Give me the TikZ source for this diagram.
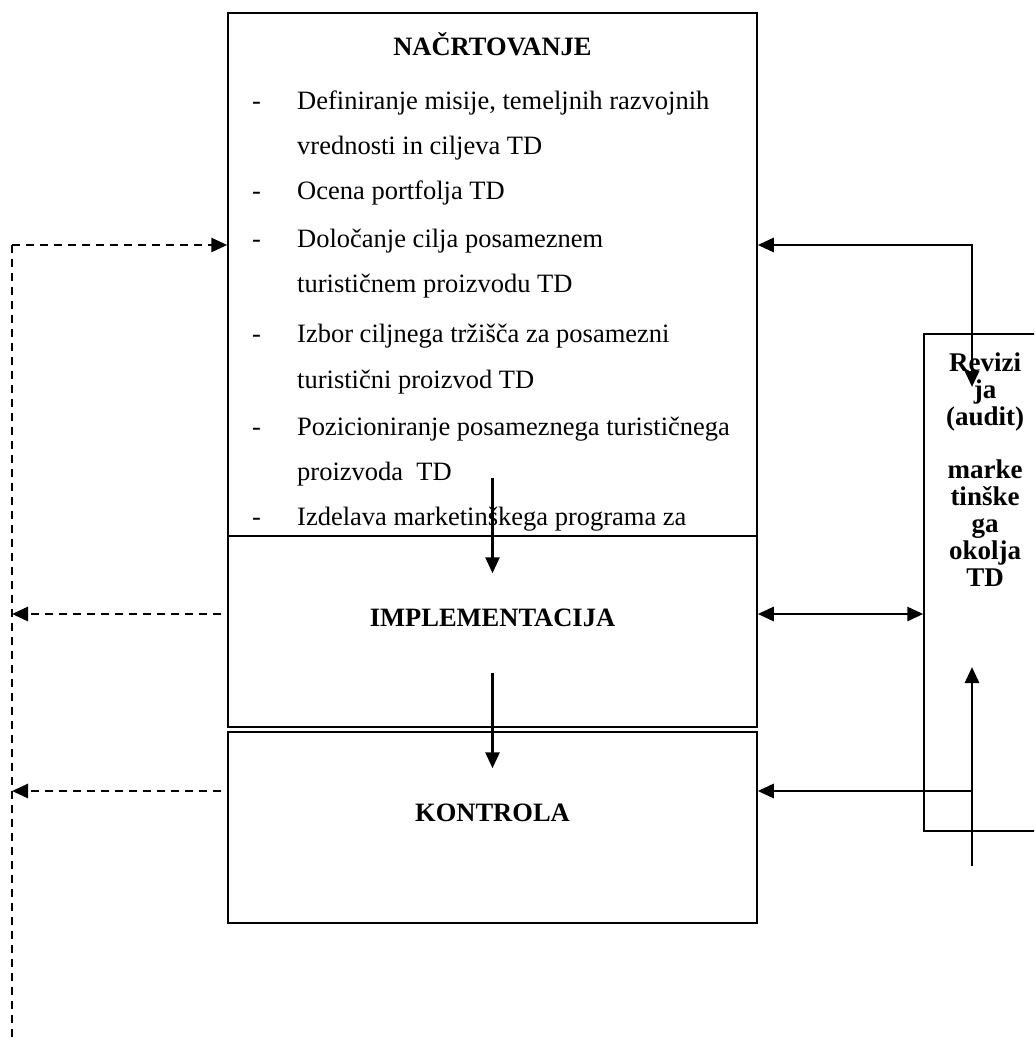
\documentclass[tikz,border=0pt]{standalone}
\usepackage{fontspec}
\setmainfont{Liberation Serif}
\usetikzlibrary{arrows.meta,calc}
\begin{document}
\begin{tikzpicture}[x=1pt,y=-1pt,
  box/.style={draw, line width=1.5pt, inner sep=0pt},
  tipx/.style={-{Triangle[length=16pt,width=14pt]}},
  arr/.style={line width=2.8pt, tipx},
  darr/.style={line width=2.8pt, {Triangle[length=16pt,width=14pt]}-{Triangle[length=16pt,width=14pt]}},
  dsh/.style={line width=2.7pt, dash pattern=on 8pt off 6pt},
  item/.style={anchor=base west, inner sep=0pt, font=\fontsize{26.5}{30}\selectfont},
  ttl/.style={anchor=base, inner sep=0pt, font=\fontsize{26.5}{30}\selectfont\bfseries}]
\useasboundingbox (0,0) rectangle (1034,1040);
\clip (0,0) rectangle (1034,1040);

% boxes
\node[box, minimum width=529pt, minimum height=523pt] (nac) at (492.5,274.5) {};
\node[box, minimum width=529pt, minimum height=191pt] (impl) at (492.5,631.5) {};
\node[box, minimum width=529pt, minimum height=191pt] (kon) at (492.5,827.5) {};
\node[box, minimum width=122pt, minimum height=497pt] (rev) at (985,582.5) {};

% planning text
\node[ttl] (nact) at (492.5,56) {NAČRTOVANJE};
\node[item] (d1) at (252,110) {-};
\node[item] (t1) at (297,110) {Definiranje misije, temeljnih razvojnih};
\node[item] (t2) at (297,155) {vrednosti in ciljeva TD};
\node[item] (d3) at (252,200) {-};
\node[item] (t3) at (297,200) {Ocena portfolja TD};
\node[item] (d4) at (252,248) {-};
\node[item] (t4) at (297,248) {Določanje cilja posameznem};
\node[item] (t5) at (297,293) {turističnem proizvodu TD};
\node[item] (d6) at (252,342) {-};
\node[item] (t6) at (297,342) {Izbor ciljnega tržišča za posamezni};
\node[item] (t7) at (297,388) {turistični proizvod TD};
\node[item] (d8) at (252,435) {-};
\node[item] (t8) at (297,435) {Pozicioniranje posameznega turističnega};
\node[item] (t9) at (297,480) {proizvoda\ \ TD};
\node[item] (d10) at (252,525) {-};
\node[item] (t10) at (297,525) {Izdelava marketinškega programa za};

% other titles
\node[ttl] (implt) at (492.5,626) {IMPLEMENTACIJA};
\node[ttl] (kont) at (492.5,821) {KONTROLA};
\node[anchor=north, inner sep=0pt, align=center,
      font=\fontsize{27}{27}\selectfont\bfseries] (revt) at (985,353)
  {Revizi\\ja\\(audit)\\[26pt]marke\\tinške\\ga\\okolja\\TD};

% coordinates
\coordinate (hA) at (972,245);
\coordinate (revin) at (972,387);
\coordinate (hB) at (0,614);
\coordinate (hC) at (972,791);
\coordinate (vbot) at (972,866);
\coordinate (vtop) at (972,667);
\coordinate (dtop) at (12,245);
\coordinate (dbot) at (12,1038);

% solid connectors
\draw[arr] ($(nac.south)+(0,-59)$) -- ($(impl.north)+(0,38)$);
\draw[arr] ($(impl.south)+(0,-55)$) -- ($(kon.north)+(0,37)$);
\draw[darr] (nac.east |- hA) -- (hA) -- (revin);
\draw[darr] (impl.east |- hB) -- (rev.west |- hB);
\draw[arr] (vbot) -- (vtop);
\draw[arr] (hC) -- (kon.east |- hC);

% dashed feedback
\draw[dsh] (dtop) -- (dbot);
\draw[dsh, tipx] (dtop) -- (nac.west |- dtop);
\draw[dsh, tipx] ($(impl.west |- hB)+(-6,0)$) -- (dtop |- hB);
\draw[dsh, tipx] ($(kon.west |- hC)+(-6,0)$) -- (dtop |- hC);
\end{tikzpicture}
\end{document}
